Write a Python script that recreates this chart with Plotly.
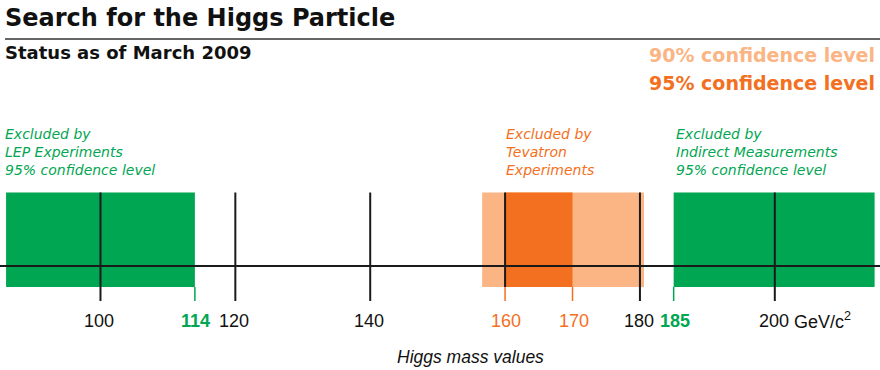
import plotly.graph_objects as go

# ---- data ----
axis_range = [85.1, 215.6]
black_ticks = [100, 120, 140, 160, 180, 200]
tick_labels = ["100", "120", "140", "160", "180", "200"]
lep_region = [86.0, 114]          # LEP exclusion (95% CL)
indirect_region = [185, 214.8]    # indirect measurements exclusion (95% CL)
tev_90 = [156.6, 180.6]           # Tevatron 90% CL
tev_95 = [160, 170]               # Tevatron 95% CL
green_ticks = [114, 185]
orange_ticks = [160, 170]

GREEN = "#00A651"
ORANGE = "#F37021"
LIGHT = "#FBB584"
INK = "#1a1a1a"
HELV = "Liberation Sans, Arial, Helvetica, sans-serif"
WIDE = "DejaVu Sans, Verdana, sans-serif"

# pixel-like vertical scale (layout only)
BOX_TOP, BOX_BOT, AXIS_Y, TICK_BOT = 192.5, 287, 266, 301

fig = go.Figure()
shapes = []

def rect(x0, x1, color):
    shapes.append(dict(type="rect", xref="x", yref="y", x0=x0, x1=x1, y0=BOX_TOP, y1=BOX_BOT,
                       fillcolor=color, line=dict(width=0), layer="below"))

rect(*lep_region, GREEN)
rect(*indirect_region, GREEN)
rect(*tev_90, LIGHT)
rect(*tev_95, ORANGE)

shapes.append(dict(type="line", xref="paper", yref="y", x0=0, x1=1, y0=AXIS_Y, y1=AXIS_Y,
                   line=dict(color=INK, width=2)))
for v in black_ticks:
    y1 = BOX_BOT if v in orange_ticks else TICK_BOT
    shapes.append(dict(type="line", xref="x", yref="y", x0=v, x1=v, y0=BOX_TOP, y1=y1,
                       line=dict(color=INK, width=2)))
for v in green_ticks:
    shapes.append(dict(type="line", xref="x", yref="y", x0=v, x1=v, y0=BOX_BOT, y1=TICK_BOT,
                       line=dict(color=GREEN, width=1.5)))
for v in orange_ticks:
    shapes.append(dict(type="line", xref="x", yref="y", x0=v, x1=v, y0=BOX_BOT, y1=TICK_BOT,
                       line=dict(color=ORANGE, width=1.5)))
shapes.append(dict(type="line", xref="paper", yref="y", x0=5/880, x1=1, y0=39, y1=39,
                   line=dict(color="#333", width=1.5)))

ann = []
def A(text, x, y, size, color, family=HELV, xanchor="left", xref="paper", **kw):
    ann.append(dict(text=text, x=x, y=y, xref=xref, yref="y", xanchor=xanchor, yanchor="middle",
                    showarrow=False, align="left", font=dict(family=family, size=size, color=color), **kw))

A("<b>Search for the Higgs Particle</b>", 3/880, 18, 24, "#111", WIDE)
A("<b>Status as of March 2009</b>", 3/880, 52, 18, "#111", WIDE)
A("<b>90% confidence level</b>", 877/880, 55, 19, LIGHT, WIDE, xanchor="right")
A("<b>95% confidence level</b>", 877/880, 82.5, 19, ORANGE, WIDE, xanchor="right")

A("<i>Excluded by<br>LEP Experiments<br>95% confidence level</i>", lep_region[0], 152, 14, GREEN, WIDE, xref="x", xshift=-3)
A("<i>Excluded by<br>Tevatron<br>Experiments</i>", tev_95[0], 152, 14, ORANGE, WIDE, xref="x", xshift=-1)
A("<i>Excluded by<br>Indirect Measurements<br>95% confidence level</i>", indirect_region[0], 152, 14, GREEN, WIDE, xref="x", xshift=0)

for v, t in zip(black_ticks, tick_labels):
    if v in orange_ticks or v in green_ticks:
        continue
    A(t, v, 321, 18, "#111", xanchor="center", xref="x", xshift=-1)
A("GeV/c<sup>2</sup>", black_ticks[-1], 320, 18, "#111", xanchor="left", xref="x", xshift=17)
for v in green_ticks:
    A("<b>%d</b>" % v, v, 321, 18, GREEN, xanchor="center", xref="x", xshift=1)
for v in orange_ticks:
    A(str(v), v, 321, 18, ORANGE, xanchor="center", xref="x", xshift=1)

A("<i>Higgs mass values</i>", 470/880, 357, 17.5, "#111", xanchor="center")

fig.update_layout(
    width=880, height=370,
    margin=dict(l=0, r=0, t=0, b=0),
    paper_bgcolor="white", plot_bgcolor="white",
    xaxis=dict(range=axis_range, visible=False, fixedrange=True),
    yaxis=dict(range=[370, 0], visible=False, fixedrange=True),
    shapes=shapes, annotations=ann, showlegend=False,
)
fig.write_html("out.html", config={"displayModeBar": False},
               post_script="document.body.style.margin='0';document.body.style.overflow='hidden';")
